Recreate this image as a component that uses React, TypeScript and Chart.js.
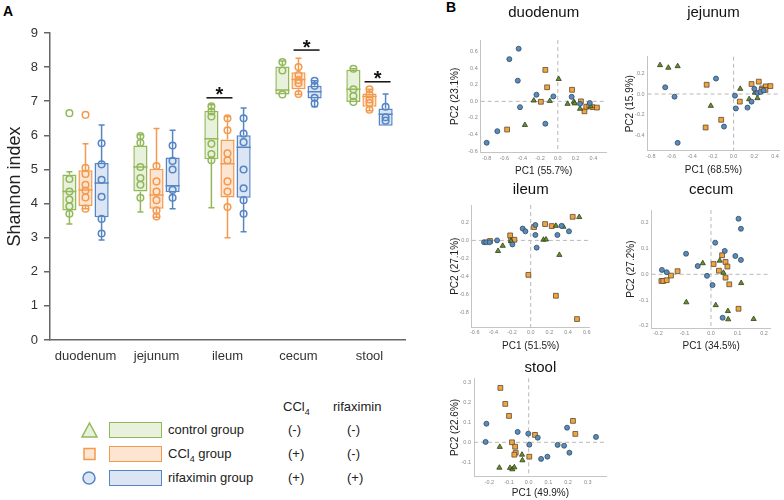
import React, { useEffect, useRef } from 'react';
import { Chart, registerables } from 'chart.js';

Chart.register(...registerables);

const FONT = "'Liberation Sans', Arial, Helvetica, sans-serif";
Chart.defaults.font.family = FONT;

// ---------------- Panel A data ----------------
const categories = ['duodenum', 'jejunum', 'ileum', 'cecum', 'stool'];
// [min, q1, median, q3, max] for each category
const controlBox = [
  [3.4, 3.8, 4.35, 4.85, 4.93],
  [3.75, 4.35, 5.07, 5.7, 6.02],
  [3.88, 5.3, 5.9, 6.72, 6.9],
  [7.2, 7.2, 7.33, 8.02, 8.18],
  [6.98, 6.98, 7.35, 7.92, 7.95],
];
const ccl4Box = [
  [3.85, 3.93, 4.4, 4.98, 5.75],
  [3.6, 3.85, 4.25, 5.02, 6.2],
  [3.0, 4.18, 5.17, 5.88, 6.55],
  [7.2, 7.35, 7.64, 7.85, 8.26],
  [6.72, 6.84, 7.14, 7.23, 7.35],
];
const rifaximinBox = [
  [2.93, 3.6, 4.6, 5.19, 6.3],
  [3.85, 4.33, 4.52, 5.35, 6.15],
  [3.17, 4.17, 5.65, 6.0, 6.8],
  [6.84, 7.08, 7.28, 7.45, 7.6],
  [6.28, 6.28, 6.62, 6.79, 7.21],
];
const controlPoints = [
  [6.65, 4.72, 4.35, 4.12, 3.92, 3.7],
  [5.98, 5.78, 5.07, 4.75, 4.55, 4.17],
  [6.85, 6.7, 6.55, 5.75, 5.45, 5.27],
  [8.15, 7.9, 7.2],
  [7.95, 7.35, 7.15, 6.98],
];
const ccl4Points = [
  [6.6, 5.05, 4.87, 4.55, 4.38, 4.18, 3.85],
  [5.1, 4.65, 4.35, 4.1, 3.8, 3.62],
  [6.5, 6.15, 5.47, 5.27, 4.65, 4.35, 3.9],
  [8.0, 7.77, 7.62, 7.53, 7.21],
  [7.35, 7.2, 7.05, 6.95, 6.75],
];
const rifaximinPoints = [
  [5.77, 5.15, 4.7, 4.2, 3.55, 3.12],
  [5.7, 5.25, 5.0, 4.4, 4.17],
  [6.5, 6.05, 5.8, 5.0, 4.45, 4.1, 3.7],
  [7.6, 7.45, 7.1, 6.93],
  [6.84, 6.53, 6.43],
];
// [category index, group a, group b, bar height]
const significance = [
  [2, 0, 1, 7.1],
  [3, 1, 2, 8.5],
  [4, 1, 2, 7.57],
];

// ---------------- Panel B data (PC1, PC2) ----------------
const duodenumControl = [[0.01, 0.27], [-0.27, 0.01], [-0.09, 0.005], [-0.37, -0.285], [0.11, -0.03], [0.18, -0.005], [0.19, -0.025], [0.25, -0.09], [0.37, -0.06]];
const duodenumCcl4 = [[-0.14, 0.38], [-0.12, 0.17], [-0.19, -0.005], [0.16, 0.14], [0.26, 0.0], [0.3, -0.12], [0.32, -0.065], [0.355, -0.055], [0.39, -0.07], [0.44, -0.075], [-0.57, -0.34]];
const duodenumRifaximin = [[-0.44, 0.636], [-0.545, 0.51], [-0.45, 0.25], [-0.425, -0.07], [-0.24, 0.08], [-0.05, 0.06], [-0.14, -0.27], [-0.68, -0.36], [-0.8, -0.5], [0.156, 0.055], [0.25, -0.03], [0.36, -0.02]];

const jejunumControl = [[-0.71, 0.28], [-0.63, 0.255], [-0.54, 0.27], [-0.22, -0.115], [0.064, 0.05], [0.15, -0.05], [0.205, 0.013], [0.23, -0.04]];
const jejunumCcl4 = [[-0.26, 0.09], [-0.12, -0.25], [-0.27, -0.325], [0.06, -0.074], [0.173, 0.097], [0.243, 0.12], [0.275, 0.055], [0.31, 0.074], [0.307, 0.04], [0.355, 0.077], [0.27, 0.04]];
const jejunumRifaximin = [[-0.66, 0.065], [-0.57, -0.026], [-0.17, 0.15], [0.013, -0.016], [0.022, -0.14], [-0.093, -0.316], [-0.54, -0.474], [0.134, -0.132], [0.173, -0.074], [0.2, 0.05], [0.23, 0.01], [0.26, 0.02], [0.29, 0.035]];

const ileumControl = [[-0.3, -0.06], [-0.35, -0.117], [-0.21, -0.007], [0.136, 0.007], [0.164, 0.01], [0.27, 0.16], [0.35, 0.15], [0.52, 0.257], [0.307, -0.16]];
const ileumCcl4 = [[-0.436, -0.007], [-0.22, 0.055], [-0.21, 0.0], [-0.175, 0.007], [0.036, 0.147], [0.154, 0.18], [0.225, 0.158], [0.45, 0.26], [-0.025, -0.38], [0.27, -0.61], [0.496, -0.867]];
const ileumRifaximin = [[-0.5, -0.02], [-0.475, -0.02], [-0.44, -0.02], [-0.36, 0.0], [-0.196, -0.044], [-0.086, 0.13], [-0.057, 0.1], [0.05, 0.17], [0.05, 0.06], [0.064, -0.08], [0.286, 0.06], [0.33, 0.16], [0.41, 0.1]];

const cecumControl = [[-0.093, -0.109], [-0.031, 0.043], [0.033, 0.053], [0.047, 0.006], [0.018, -0.12], [0.064, -0.143], [0.065, -0.175], [0.114, -0.034], [0.161, -0.174]];
const cecumCcl4 = [[-0.187, -0.026], [-0.18, -0.026], [-0.167, -0.023], [-0.151, -0.005], [-0.126, 0.012], [0.01, 0.04], [0.03, 0.014], [0.042, 0.074], [0.055, 0.048], [0.055, -0.013], [0.062, 0.03], [0.069, -0.039], [0.104, -0.134]];
const cecumRifaximin = [[-0.185, 0.017], [-0.167, 0.008], [-0.094, 0.08], [-0.05, 0.032], [-0.015, -0.006], [0.006, -0.042], [0.016, 0.123], [0.052, 0.091], [0.092, 0.071], [0.104, 0.216], [0.113, 0.177], [0.113, 0.056], [0.044, -0.169]];

const stoolControl = [[-0.147, -0.023], [-0.034, -0.062], [-0.032, -0.09], [-0.149, -0.127], [-0.095, -0.128], [-0.083, -0.135], [-0.073, -0.125]];
const stoolCcl4 = [[-0.144, 0.272], [-0.119, 0.192], [-0.1, 0.132], [-0.085, 0.0], [-0.069, -0.022], [-0.066, -0.052], [-0.073, -0.062], [0.003, -0.072], [0.032, 0.037], [0.225, 0.107], [0.237, 0.042]];
const stoolRifaximin = [[-0.215, 0.093], [-0.219, 0.002], [-0.056, 0.052], [-0.002, 0.043], [0.003, -0.012], [0.046, 0.023], [0.063, -0.083], [0.095, -0.072], [0.147, -0.013], [0.18, -0.017], [0.195, 0.073], [0.207, -0.052], [0.342, 0.027]];

// ---------------- styles ----------------
const GREEN = '#93b85a';
const GREEN_FILL = '#e8f1dc';
const ORANGE = '#f39a4e';
const ORANGE_FILL = '#fde5d2';
const BLUE = '#5585c5';
const BLUE_FILL = '#dce5f3';

const BOX_GROUPS = [
  { label: 'control group', box: controlBox, points: controlPoints, stroke: GREEN, fill: GREEN_FILL },
  { label: 'CCl4 group', box: ccl4Box, points: ccl4Points, stroke: ORANGE, fill: ORANGE_FILL },
  { label: 'rifaximin group', box: rifaximinBox, points: rifaximinPoints, stroke: BLUE, fill: BLUE_FILL },
];

const boxExtras = {
  id: 'boxExtras',
  afterDatasetsDraw(chart: any) {
    const ctx = chart.ctx;
    const ys = chart.scales.y;
    const py = (v: number) => ys.getPixelForValue(v);
    BOX_GROUPS.forEach((g, i) => {
      const meta = chart.getDatasetMeta(i);
      meta.data.forEach((el: any, j: number) => {
        const [mn, q1, md, q3, mx] = g.box[j];
        const x = el.x;
        const w = el.width;
        const cap = 3;
        ctx.save();
        ctx.strokeStyle = g.stroke;
        ctx.lineWidth = 1.5;
        ctx.beginPath();
        if (mx > q3) {
          ctx.moveTo(x, py(q3));
          ctx.lineTo(x, py(mx));
          ctx.moveTo(x - cap, py(mx));
          ctx.lineTo(x + cap, py(mx));
        }
        if (mn < q1) {
          ctx.moveTo(x, py(q1));
          ctx.lineTo(x, py(mn));
          ctx.moveTo(x - cap, py(mn));
          ctx.lineTo(x + cap, py(mn));
        }
        ctx.moveTo(x - w / 2, py(md));
        ctx.lineTo(x + w / 2, py(md));
        ctx.stroke();
        g.points[j].forEach((v: number) => {
          ctx.beginPath();
          ctx.arc(x, py(v), 3.3, 0, Math.PI * 2);
          ctx.stroke();
        });
        ctx.restore();
      });
    });
    ctx.save();
    significance.forEach(([c, a, b, h]) => {
      const ea: any = chart.getDatasetMeta(a).data[c];
      const eb: any = chart.getDatasetMeta(b).data[c];
      const x1 = ea.x - ea.width * 0.35;
      const x2 = eb.x + eb.width * 0.35;
      const y = py(h);
      ctx.strokeStyle = '#111';
      ctx.lineWidth = 1.5;
      ctx.beginPath();
      ctx.moveTo(x1, y);
      ctx.lineTo(x2, y);
      ctx.stroke();
      ctx.fillStyle = '#111';
      ctx.font = `bold 20px ${FONT}`;
      ctx.textAlign = 'center';
      ctx.textBaseline = 'alphabetic';
      ctx.fillText('*', (x1 + x2) / 2, y + 3.5);
    });
    ctx.restore();
  },
};

function BoxChart() {
  const ref = useRef<HTMLCanvasElement>(null);
  useEffect(() => {
    const chart = new Chart(ref.current as HTMLCanvasElement, {
      type: 'bar',
      data: {
        labels: categories,
        datasets: BOX_GROUPS.map((g) => ({
          label: g.label,
          data: g.box.map((b) => [b[1], b[3]]),
          backgroundColor: g.fill,
          borderColor: g.stroke,
          borderWidth: 1.5,
          borderSkipped: false,
          barPercentage: 0.88,
          categoryPercentage: 0.68,
        })),
      } as any,
      options: {
        animation: false,
        responsive: false,
        maintainAspectRatio: false,
        layout: { padding: { top: 33, right: 15, left: 0, bottom: 0 } },
        plugins: { legend: { display: false }, tooltip: { enabled: false } },
        scales: {
          x: {
            type: 'category',
            grid: { display: false, drawTicks: false },
            border: { color: '#666', width: 1.5 },
            ticks: { font: { size: 13 }, color: '#333', padding: 9 },
            afterFit: (s: any) => { s.height = 32; },
          },
          y: {
            min: 0,
            max: 9,
            ticks: { stepSize: 1, font: { size: 13 }, color: '#333', padding: 6 },
            grid: { drawOnChartArea: false, color: '#666', tickLength: 6, lineWidth: 1.5 },
            border: { color: '#666', width: 1.5 },
            title: { display: true, text: 'Shannon index', font: { size: 18 }, color: '#222', padding: { top: 4, bottom: 0 } },
            afterFit: (s: any) => { s.width = 50; },
          },
        },
      } as any,
      plugins: [boxExtras],
    });
    return () => chart.destroy();
  }, []);
  return <canvas ref={ref} width={420} height={372} style={{ position: 'absolute', left: 0, top: 0 }} />;
}

// ---------------- Panel B ----------------
const zeroLines = {
  id: 'zeroLines',
  beforeDatasetsDraw(chart: any) {
    const { ctx, chartArea } = chart;
    const x0 = chart.scales.x.getPixelForValue(0);
    const y0 = chart.scales.y.getPixelForValue(0);
    ctx.save();
    ctx.strokeStyle = '#b8b8b8';
    ctx.lineWidth = 1;
    ctx.setLineDash([4, 3]);
    ctx.beginPath();
    ctx.moveTo(x0, chartArea.top);
    ctx.lineTo(x0, chartArea.bottom);
    ctx.moveTo(chartArea.left, y0);
    ctx.lineTo(chartArea.right, y0);
    ctx.stroke();
    ctx.restore();
  },
};

type PanelGeom = {
  cx: number; cy: number; cw: number; ch: number;
  l: number; r: number; t: number; b: number;
  xr: [number, number]; yr: [number, number];
  xStep: number; yStep: number;
  titleY: number; xTitleY: number; yTitleX: number;
};

const fmt = (v: any) => {
  const n = Number(v);
  return Math.abs(n) < 1e-9 ? '0.0' : n.toFixed(1);
};

function PCAPanel(props: {
  geom: PanelGeom; title: string; xTitle: string; yTitle: string;
  control: number[][]; ccl4: number[][]; rifaximin: number[][];
}) {
  const ref = useRef<HTMLCanvasElement>(null);
  useEffect(() => {
    const g = props.geom;
    const tPadTop = g.titleY - g.cy - 9;
    const tPadBottom = g.t - g.cy - tPadTop - 18;
    const mk = (pts: number[][], style: string, bg: string, border: string, r: number) => ({
      data: pts.map(([x, y]) => ({ x, y })),
      pointStyle: style,
      pointRadius: r,
      backgroundColor: bg,
      borderColor: border,
      borderWidth: 0.8,
      showLine: false,
    });
    const tickFont = { size: 5.5 };
    const chart = new Chart(ref.current as HTMLCanvasElement, {
      type: 'scatter',
      data: {
        datasets: [
          mk(props.rifaximin, 'circle', '#5b8bb8', '#2e4a66', 2.5),
          mk(props.control, 'triangle', '#6c8f2e', '#2f3f1a', 3),
          mk(props.ccl4, 'rect', '#f4a53a', '#5a4a3a', 3.4),
        ],
      } as any,
      options: {
        animation: false,
        responsive: false,
        maintainAspectRatio: false,
        layout: { padding: { left: 0, top: 0, bottom: 0, right: g.cx + g.cw - g.r } },
        plugins: {
          legend: { display: false },
          tooltip: { enabled: false },
          title: {
            display: true,
            text: props.title,
            fullSize: false,
            font: { size: 15, weight: 'normal' },
            color: '#111',
            padding: { top: tPadTop, bottom: tPadBottom },
          },
        },
        scales: {
          x: {
            type: 'linear',
            min: g.xr[0],
            max: g.xr[1],
            grid: { display: false, drawTicks: false },
            border: { color: '#c4c4c4', width: 1 },
            ticks: { stepSize: g.xStep, includeBounds: false, font: tickFont, color: '#888', padding: 2, maxRotation: 0, autoSkip: false, callback: fmt },
            title: { display: true, text: props.xTitle, font: { size: 10 }, color: '#222', padding: { top: 0, bottom: g.cy + g.ch - g.xTitleY - 6 } },
            afterFit: (s: any) => { s.height = g.cy + g.ch - g.b; },
          },
          y: {
            type: 'linear',
            min: g.yr[0],
            max: g.yr[1],
            grid: { display: false, drawTicks: false },
            border: { color: '#c4c4c4', width: 1 },
            ticks: { stepSize: g.yStep, includeBounds: false, font: tickFont, color: '#888', padding: 3, autoSkip: false, callback: fmt },
            title: { display: true, text: props.yTitle, font: { size: 10 }, color: '#222', padding: { top: g.yTitleX - g.cx - 6, bottom: 0 } },
            afterFit: (s: any) => { s.width = g.l - g.cx; },
          },
        },
      } as any,
      plugins: [zeroLines],
    });
    return () => chart.destroy();
  }, []);
  const g = props.geom;
  return <canvas ref={ref} width={g.cw} height={g.ch} style={{ position: 'absolute', left: g.cx, top: g.cy }} />;
}

const duodenumGeom: PanelGeom = { cx: 445, cy: 0, cw: 183, ch: 180, l: 480.7, r: 606.7, t: 40, b: 152.7, xr: [-0.867, 0.55], yr: [-0.62, 0.741], xStep: 0.2, yStep: 0.2, titleY: 13, xTitleY: 171, yTitleX: 455 };
const jejunumGeom: PanelGeom = { cx: 620, cy: 0, cw: 164, ch: 180, l: 647.6, r: 780, t: 56.7, b: 150.7, xr: [-0.83, 0.44], yr: [-0.55, 0.362], xStep: 0.2, yStep: 0.2, titleY: 13, xTitleY: 170, yTitleX: 630 };
const ileumGeom: PanelGeom = { cx: 445, cy: 175, cw: 183, ch: 180, l: 471.9, r: 589.5, t: 205, b: 327.5, xr: [-0.63, 0.63], yr: [-0.96, 0.39], xStep: 0.2, yStep: 0.2, titleY: 190, xTitleY: 346, yTitleX: 455 };
const cecumGeom: PanelGeom = { cx: 620, cy: 175, cw: 164, ch: 180, l: 651.6, r: 770.6, t: 210, b: 328.3, xr: [-0.224, 0.225], yr: [-0.21, 0.25], xStep: 0.1, yStep: 0.1, titleY: 190, xTitleY: 346, yTitleX: 631 };
const stoolGeom: PanelGeom = { cx: 445, cy: 350, cw: 183, ch: 150, l: 474, r: 606.8, t: 378.3, b: 476.7, xr: [-0.278, 0.397], yr: [-0.172, 0.32], xStep: 0.1, yStep: 0.1, titleY: 368, xTitleY: 493, yTitleX: 455 };

// ---------------- Legend ----------------
const txt = (left: number, cy: number, content: React.ReactNode, size = 13) => (
  <div style={{ position: 'absolute', left, top: cy - 8, height: 16, lineHeight: '16px', fontSize: size, color: '#222', whiteSpace: 'nowrap' }}>{content}</div>
);
const ccl4Text = (
  <span>CCl<sub style={{ fontSize: 9, verticalAlign: 'sub', lineHeight: 0 }}>4</sub></span>
);

function Legend() {
  const rows = [
    { y: 430, stroke: GREEN, fill: GREEN_FILL, label: <span>control group</span>, a: '(-)', b: '(-)' },
    { y: 454, stroke: ORANGE, fill: ORANGE_FILL, label: <span>{ccl4Text} group</span>, a: '(+)', b: '(-)' },
    { y: 478, stroke: BLUE, fill: BLUE_FILL, label: <span>rifaximin group</span>, a: '(+)', b: '(+)' },
  ];
  return (
    <>
      <svg width={110} height={100} style={{ position: 'absolute', left: 0, top: 400 }}>
        <polygon points="82,37 97,37 89.5,23" fill={GREEN_FILL} stroke={GREEN} strokeWidth={1.5} />
        <rect x={84} y={48.5} width={11} height={11} fill={ORANGE_FILL} stroke={ORANGE} strokeWidth={1.5} />
        <circle cx={89} cy={78} r={6} fill={BLUE_FILL} stroke={BLUE} strokeWidth={1.5} />
      </svg>
      {rows.map((r, i) => (
        <div key={i} style={{ position: 'absolute', left: 109, top: r.y - 8, width: 53, height: 16, boxSizing: 'border-box', border: `1.5px solid ${r.stroke}`, background: r.fill }} />
      ))}
      {rows.map((r, i) => (
        <React.Fragment key={'t' + i}>
          {txt(168, r.y, r.label)}
          {txt(288, r.y, r.a)}
          {txt(347, r.y, r.b)}
        </React.Fragment>
      ))}
      {txt(283, 407, ccl4Text)}
      {txt(333, 407, 'rifaximin')}
    </>
  );
}

export default function App() {
  return (
    <div style={{ position: 'absolute', left: 0, top: 0, width: 784, height: 500, background: '#fff', fontFamily: FONT, overflow: 'hidden' }}>
      <div style={{ position: 'absolute', left: 3, top: 3, fontSize: 14, fontWeight: 'bold', lineHeight: '16px' }}>A</div>
      <div style={{ position: 'absolute', left: 446, top: -1, fontSize: 14, fontWeight: 'bold', lineHeight: '16px' }}>B</div>
      <BoxChart />
      <Legend />
      <PCAPanel geom={duodenumGeom} title="duodenum" xTitle="PC1 (55.7%)" yTitle="PC2 (23.1%)" control={duodenumControl} ccl4={duodenumCcl4} rifaximin={duodenumRifaximin} />
      <PCAPanel geom={jejunumGeom} title="jejunum" xTitle="PC1 (68.5%)" yTitle="PC2 (15.9%)" control={jejunumControl} ccl4={jejunumCcl4} rifaximin={jejunumRifaximin} />
      <PCAPanel geom={ileumGeom} title="ileum" xTitle="PC1 (51.5%)" yTitle="PC2 (27.1%)" control={ileumControl} ccl4={ileumCcl4} rifaximin={ileumRifaximin} />
      <PCAPanel geom={cecumGeom} title="cecum" xTitle="PC1 (34.5%)" yTitle="PC2 (27.2%)" control={cecumControl} ccl4={cecumCcl4} rifaximin={cecumRifaximin} />
      <PCAPanel geom={stoolGeom} title="stool" xTitle="PC1 (49.9%)" yTitle="PC2 (22.6%)" control={stoolControl} ccl4={stoolCcl4} rifaximin={stoolRifaximin} />
    </div>
  );
}
